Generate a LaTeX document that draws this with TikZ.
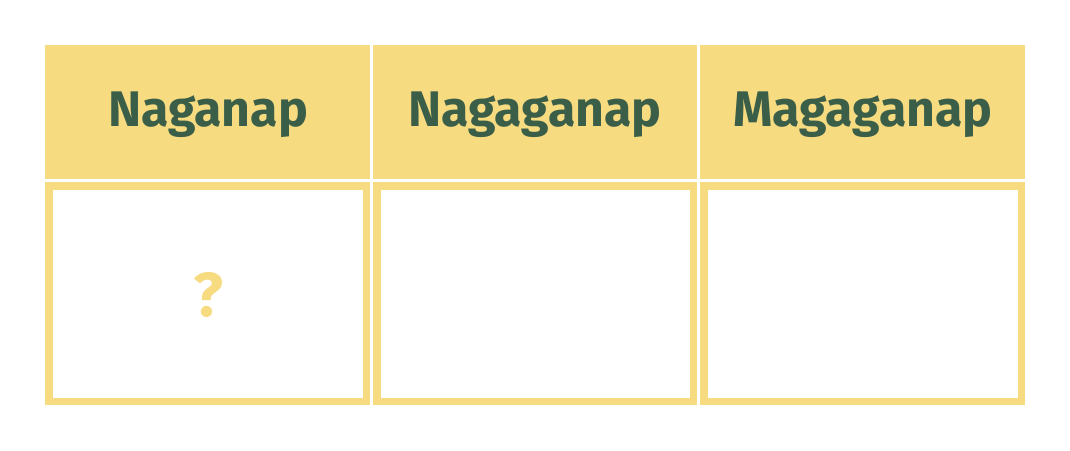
\documentclass[tikz,border=0pt]{standalone}
\usepackage{fontspec}
\setmainfont{Fira Sans}
\definecolor{cellyellow}{HTML}{F7DB80}
\definecolor{labelgreen}{HTML}{3B5E48}
\tikzset{
	headcell/.style={fill=cellyellow, draw=none},
	bodycell/.style={draw=cellyellow, line width=7.5pt, fill=white},
	headtext/.style={text=labelgreen, font=\bfseries\fontsize{50}{54}\selectfont, inner sep=0pt, anchor=base},
	marktext/.style={text=cellyellow, font=\bfseries\fontsize{62}{66}\selectfont, inner sep=0pt, anchor=base}
}
\begin{document}
\begin{tikzpicture}[x=1pt, y=-1pt, line join=miter]
	\useasboundingbox (0,0) rectangle (1070,450);
	% header row
	\fill[headcell] (45,45) rectangle (370,179);
	\fill[headcell] (373,45) rectangle (697,179);
	\fill[headcell] (700,45) rectangle (1025,179);
	\node[headtext] (naganap) at (208,126.5) {Naganap};
	\node[headtext] (nagaganap) at (535,126.5) {Nagaganap};
	\node[headtext] (magaganap) at (863,126.5) {Magaganap};
	% body row
	\draw[bodycell] (48.75,185.75) rectangle (366.25,401.25);
	\draw[bodycell] (376.75,185.75) rectangle (693.25,401.25);
	\draw[bodycell] (703.75,185.75) rectangle (1021.25,401.25);
	\node[marktext] (mark) at (208,316.5) {?};
\end{tikzpicture}
\end{document}
